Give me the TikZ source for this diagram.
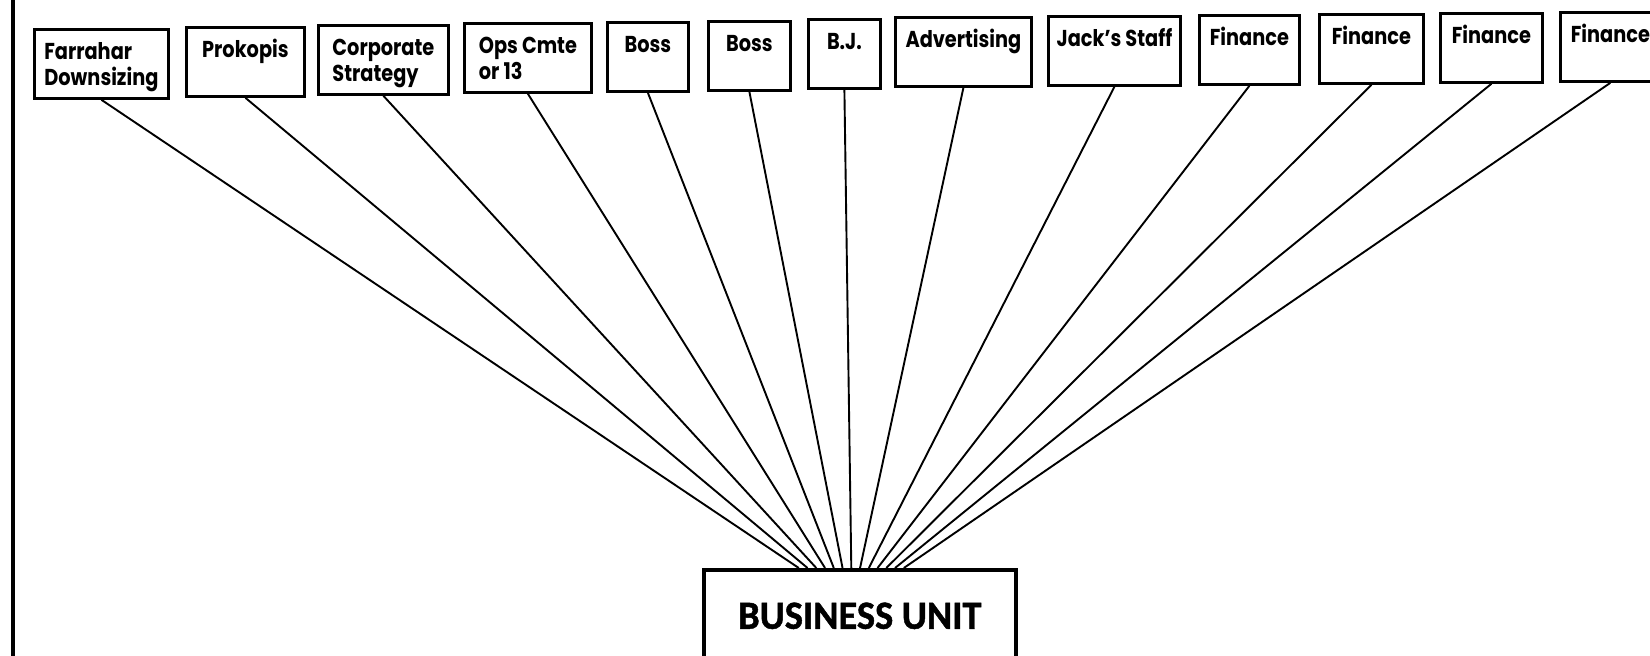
\documentclass[tikz,border=0pt]{standalone}
\usepackage{fontspec}
\setmainfont{Poppins}[FakeStretch=0.84]
\newfontfamily\unitfont{Carlito}[FakeStretch=0.96, BoldFeatures={FakeBold=1.2}]

% two lines of a box, kept on the same baseline grid
\newcommand{\duo}[2]{\rule{0pt}{23pt}#1\\\rule[-6pt]{0pt}{6pt}#2}

\begin{document}
\begin{tikzpicture}[x=1pt, y=-1pt,
    dept/.style={draw, line width=2.8pt, anchor=north west, align=left,
      inner sep=0pt, minimum height=69pt,
      font=\fontsize{23}{26}\selectfont\bfseries},
    bu/.style={draw, line width=3.6pt, anchor=north west, inner sep=0pt,
      minimum width=312pt, minimum height=92pt,
      font=\unitfont\fontsize{40}{48}\selectfont\bfseries}]
  \clip (0,0) rectangle (1650,656);

  % margin rule on the left
  \draw[line width=4.5pt] (13,0) -- (13,656);

  \node[dept, minimum width=134pt] (b1) at (33,28) {\duo{Farrahar}{Downsizing}};
  \node[dept, minimum width=118pt] (b2) at (185,26) {\duo{Prokopis}{}};
  \node[dept, minimum width=130pt] (b3) at (317,24) {\duo{Corporate}{Strategy}};
  \node[dept, minimum width=127pt] (b4) at (463,22) {\duo{Ops Cmte}{or 13}};
  \node[dept, minimum width=81pt] (b5) at (606,21) {\duo{Boss}{}};
  \node[dept, minimum width=82pt] (b6) at (707,20) {\duo{Boss}{}};
  \node[dept, minimum width=72pt] (b7) at (807,18) {\duo{B.J.}{}};
  \node[dept, minimum width=136pt] (b8) at (894,16) {\duo{Advertising}{}};
  \node[dept, minimum width=132pt] (b9) at (1047,15) {\duo{Jack's Staff}{}};
  \node[dept, minimum width=100pt] (b10) at (1198,14) {\duo{Finance}{}};
  \node[dept, minimum width=104pt] (b11) at (1318,13) {\duo{Finance}{}};
  \node[dept, minimum width=102pt] (b12) at (1439,12) {\duo{Finance}{}};
  \node[dept, minimum width=100pt] (b13) at (1559,11) {\duo{Finance}{}};

  \node[bu] (unit) at (702,568) {BUSINESS UNIT};

  % every box reports to the unit
  \foreach \i in {1,...,13} {
    \draw[line width=1.9pt] (b\i.south) -- ([xshift={(\i-1)*8.75-61}]unit.north);
  }
\end{tikzpicture}
\end{document}
